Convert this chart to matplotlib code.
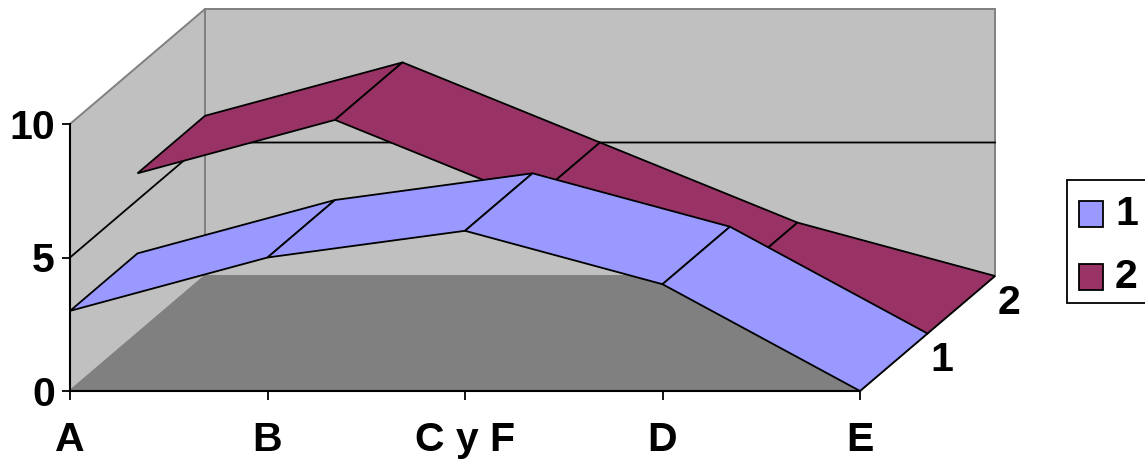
import matplotlib
matplotlib.use("Agg")
import matplotlib.pyplot as plt
from matplotlib.patches import Polygon, Rectangle

plt.rcParams['font.family'] = ['Liberation Sans', 'DejaVu Sans']
plt.rcParams['font.weight'] = 'bold'

categories = ['A', 'B', 'C y F', 'D', 'E']
series_names = ['1', '2']
series_1 = [3, 5, 6, 4, 0]
series_2 = [6, 8, 5, 2, 0]
y_ticks = [0, 5, 10]

BLUE = '#9999FF'
RED = '#993366'
WALL = '#C0C0C0'
FLOOR = '#808080'
FS = 29.5

W, H = 1145, 463
# how far one full chart depth shifts things, in data units
DX = 135 / 197.5
DY = 115 / 26.7


def proj(i, v, d):
    return i + d * DX, v + d * DY


def face(points, **kw):
    ax.add_patch(Polygon([proj(*p) for p in points], closed=True, clip_on=False, **kw))


fig = plt.figure(figsize=(W / 100, H / 100), dpi=100)
ax = fig.add_axes([70 / W, (H - 391) / H, 790 / W, 267 / H])
n = len(categories) - 1
ax.set_xlim(0, n)
ax.set_ylim(0, 10)

# walls and floor
wall_kw = dict(edgecolor=FLOOR, linewidth=1.4, joinstyle='miter')
face([(0, 0, 1), (n, 0, 1), (n, 10, 1), (0, 10, 1)], facecolor=WALL, zorder=1, **wall_kw)
face([(0, 0, 0), (0, 0, 1), (0, 10, 1), (0, 10, 0)], facecolor=WALL, zorder=1, **wall_kw)
face([(0, 0, 0), (0, 0, 1), (n, 0, 1), (n, 0, 0)], facecolor=FLOOR, zorder=2, **wall_kw)

# gridline at 5, runs along the side wall and the back wall
gx, gy = zip(*[proj(0, 5, 0), proj(0, 5, 1), proj(n, 5, 1)])
ax.plot(gx, gy, color='black', lw=1.3, zorder=3, clip_on=False)

# ribbons, back one first
ribbons = [(series_2, RED, 0.5, 1.0, 4), (series_1, BLUE, 0.0, 0.5, 5)]
for vals, col, d0, d1, z in ribbons:
    for i in range(n):
        face([(i, vals[i], d0), (i + 1, vals[i + 1], d0),
              (i + 1, vals[i + 1], d1), (i, vals[i], d1)],
             facecolor=col, edgecolor='black', linewidth=1.3, zorder=z)

ax.patch.set_visible(False)
for side in ['top', 'right']:
    ax.spines[side].set_visible(False)
for side in ['left', 'bottom']:
    ax.spines[side].set_linewidth(1.5)
    ax.spines[side].set_zorder(6)

ax.set_xticks(range(len(categories)))
ax.set_xticklabels(categories)
ax.set_yticks(y_ticks)
ax.tick_params(axis='x', labelsize=FS, length=6.5, width=1.3, pad=15)
ax.tick_params(axis='y', labelsize=FS, length=6, width=1.3, pad=5)

# depth axis labels
for k, name in enumerate(series_names):
    x, y = proj(n, 0, 0.5 * (k + 1))
    ax.text(x + 0.015, y - 1.0, name, fontsize=FS, ha='left', va='center',
            clip_on=False)

# legend, its box runs off the right edge of the picture
fig.add_artist(Rectangle((1067 / W, (H - 303) / H), 90 / W, 123 / H,
                         transform=fig.transFigure, facecolor='white',
                         edgecolor='black', linewidth=1.3))
for name, col, top in zip(series_names, [BLUE, RED], [201, 264]):
    fig.add_artist(Rectangle((1079 / W, (H - top - 26) / H), 24 / W, 26 / H,
                             transform=fig.transFigure, facecolor=col,
                             edgecolor='black', linewidth=1.3))
    fig.text(1115 / W, (H - top - 13) / H, name, fontsize=FS, ha='left', va='center')

fig.savefig('out.png', dpi=100)
